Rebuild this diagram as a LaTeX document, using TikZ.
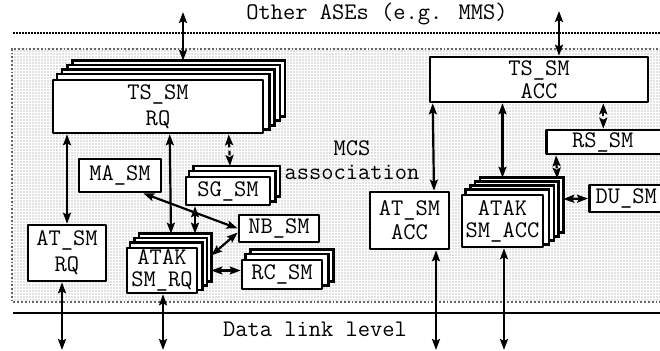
\documentclass[tikz,border=0pt]{standalone}
\usetikzlibrary{arrows.meta,patterns.meta}
\pgfdeclarelayer{ground}
\pgfdeclarelayer{back}
\pgfsetlayers{ground,back,main}
\tikzset{
  sm/.style={draw, fill=white, line width=1.3pt, inner sep=0pt, align=center,
    font=\ttfamily\fontsize{11.9}{13}\selectfont},
  sheet/.style={draw, fill=white, line width=1.3pt},
  link/.style={<->, line width=1.1pt},
  hint/.style={link, dash pattern=on 2.4pt off 1.6pt},
  caption/.style={font=\ttfamily\fontsize{11.9}{12}\selectfont, align=center}
}
\begin{document}
\begin{tikzpicture}[x=0.5pt, y=-0.5pt, line join=round,
    >={Stealth[length=5.5pt, width=4pt, inset=1pt]}]
  \useasboundingbox (0,0) rectangle (660,351);
  % association area
  \begin{pgfonlayer}{ground}
    \fill[pattern={Dots[distance=1.5pt, radius=0.35pt]}, pattern color=gray]
      (12,49) rectangle (662,302);
    \draw[gray!80!black, line width=0.9pt, densely dotted] (662,49) -- (12,49) -- (12,302) -- (662,302);
  \end{pgfonlayer}
  \draw[line width=1.3pt, dash pattern=on 0.8pt off 0.7pt] (13,33) -- (662,33);
  \draw[line width=1.2pt] (13,313) -- (662,313);
  \node[caption] (ase) at (377,14) {Other ASEs (e.g. MMS)};
  \node[caption] (dll) at (315,329) {Data link level};
  \node[caption] (mcs) at (352,160) {MCS\\association};
  % requester side
  \node[sm, minimum width=105pt, minimum height=26.5pt] (tsrq) at (158,106.5) {TS\_SM\\RQ};
  \node[sm, minimum width=41pt, minimum height=16.5pt] (ma) at (120,175.5) {MA\_SM};
  \node[sm, minimum width=42pt, minimum height=14pt] (sg) at (228,191) {SG\_SM};
  \node[sm, minimum width=40pt, minimum height=13.5pt] (nb) at (279,228.5) {NB\_SM};
  \node[sm, minimum width=39pt, minimum height=28pt] (atrq) at (67,253) {AT\_SM\\RQ};
  \node[sm, minimum width=35pt, minimum height=22.5pt] (atakrq) at (162,270.5) {ATAK\\[-2pt]SM\_RQ};
  \node[sm, minimum width=40pt, minimum height=14.5pt] (rc) at (282,274.5) {RC\_SM};
  % acceptor side
  \node[sm, minimum width=109pt, minimum height=22.5pt] (tsacc) at (539,79.5) {TS\_SM\\[-1.5pt]ACC};
  \node[sm, anchor=west, minimum width=80pt, minimum height=12pt] (rs) at (545,142) {RS\_SM\hspace{23.5pt}};
  \node[sm, minimum width=39.5pt, minimum height=28.5pt] (atacc) at (409.5,220.5) {AT\_SM\\[-1pt]ACC};
  \node[sm, minimum width=40.5pt, minimum height=26pt] (atakacc) at (502.5,221) {ATAK\\[-2pt]SM\_ACC};
  \node[sm, anchor=west, minimum width=60pt, minimum height=13.5pt] (du) at (588,198.5) {DU\_SM\hspace{23pt}};
  % sheets behind the stacked machines
  \begin{pgfonlayer}{back}
    \foreach \n/\k/\dx/\dy in {tsrq/4/2.6pt/2.25pt, sg/2/2.2pt/2.4pt, atakrq/3/2.2pt/2.15pt,
        rc/2/2.5pt/2.25pt, atakacc/4/2.4pt/2pt}
      \foreach \i in {\k,...,1}
        \draw[sheet] ([shift={(\i*\dx,\i*\dy)}]\n.south west) rectangle ([shift={(\i*\dx,\i*\dy)}]\n.north east);
  \end{pgfonlayer}
  \coordinate (rqtop) at ([yshift=9pt]tsrq.north);
  \coordinate (up1) at (183,12);
  \coordinate (up2) at (559,11);
  \coordinate (dn1) at (62,350);
  \coordinate (dn2) at (163,350);
  \coordinate (dn3) at (436,350);
  \coordinate (dn4) at (504,350);
  \draw[link] (up1) -- (up1 |- rqtop);
  \draw[link] (up2) -- (up2 |- tsacc.north);
  \draw[link] (dn1) -- (dn1 |- atrq.south);
  \draw[link] (dn2) -- (dn2 |- atakrq.south);
  \draw[link] (dn3) -- (dn3 |- atacc.south);
  \draw[link] (dn4) -- (dn4 |- atakacc.south);
  \draw[link] (atrq.north) -- (atrq.north |- tsrq.south);
  \draw[link] ([xshift=59pt]tsrq.south west) -- ([shift={(4.5pt,6.5pt)}]atakrq.north);
  \draw[hint] ([xshift=88.5pt]tsrq.south west) -- ([shift={(1pt,4.8pt)}]sg.north);
  \draw[link] ([xshift=-16.5pt]sg.south) -- ([shift={(16.5pt,6.5pt)}]atakrq.north);
  \draw[link] ([xshift=-9.5pt]ma.south east) -- (nb.west);
  \draw[link] ([yshift=-2pt]nb.west) -- ([shift={(6.5pt,7.5pt)}]atakrq.east);
  \draw[link] ([xshift=6.5pt]atakrq.east) -- ([yshift=2pt]rc.west);
  \draw[link] ([xshift=2pt]tsacc.south west) -- ([xshift=12.25pt]atacc.north);
  \draw[link] (tsacc.south -| atakacc.north) -- ([yshift=8pt]atakacc.north);
  \draw[hint] ([xshift=-23pt]tsacc.south east) -- ([xshift=-11.5pt]rs.north);
  \draw[hint] ([xshift=5.5pt]rs.south west) -- ([shift={(6.5pt,7.5pt)}]atakacc.north east);
  \draw[link] ([shift={(9.5pt,11pt)}]atakacc.east) -- (du.west);
\end{tikzpicture}
\end{document}
